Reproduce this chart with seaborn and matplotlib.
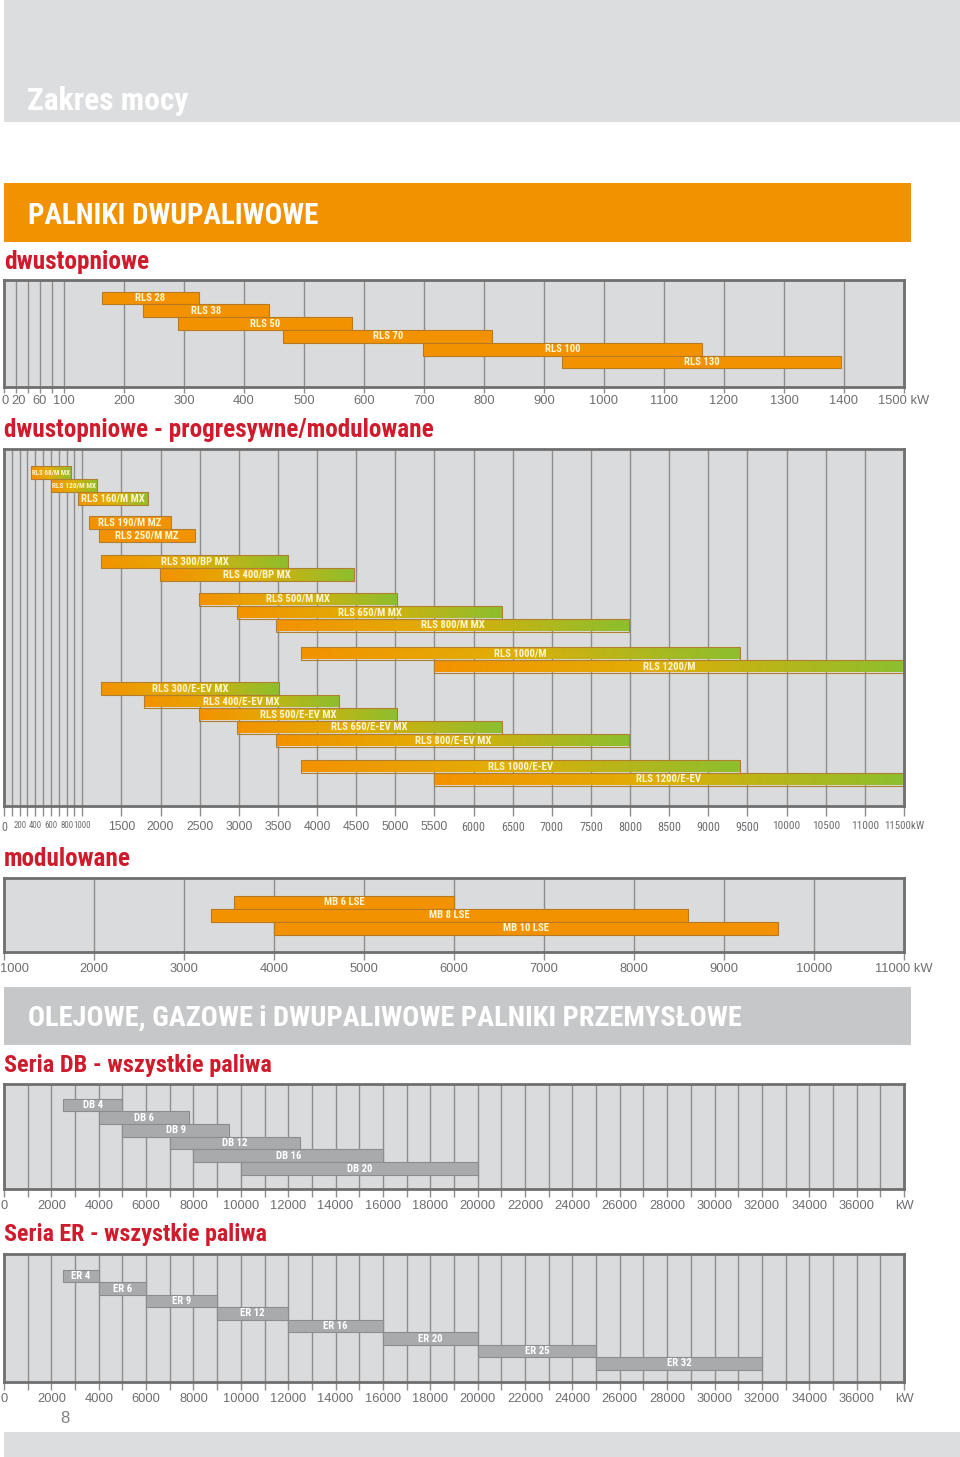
import numpy as np
import pandas as pd
import matplotlib
matplotlib.use("Agg")
import matplotlib.pyplot as plt
from matplotlib import font_manager as fm
from matplotlib.colors import LinearSegmentedColormap
from matplotlib.patches import Rectangle
from matplotlib.transforms import ScaledTranslation
import seaborn as sns

# ---------------- data (kW) ----------------
# PALNIKI DWUPALIWOWE - dwustopniowe
two_names = ["RLS 28", "RLS 38", "RLS 50", "RLS 70", "RLS 100", "RLS 130"]
two_min = [163, 232, 290, 465, 698, 930]
two_max = [325, 442, 580, 814, 1163, 1395]

# dwustopniowe - progresywne/modulowane
mod_names = ["RLS 68/M MX", "RLS 120/M MX", "RLS 160/M MX",
             "RLS 190/M MZ", "RLS 250/M MZ",
             "RLS 300/BP MX", "RLS 400/BP MX",
             "RLS 500/M MX", "RLS 650/M MX", "RLS 800/M MX",
             "RLS 1000/M", "RLS 1200/M",
             "RLS 300/E-EV MX", "RLS 400/E-EV MX", "RLS 500/E-EV MX",
             "RLS 650/E-EV MX", "RLS 800/E-EV MX",
             "RLS 1000/E-EV", "RLS 1200/E-EV"]
mod_min = [345, 600, 940, 1090, 1220, 1240, 1990, 2490, 2980, 3480, 3790, 5490,
           1240, 1790, 2490, 2980, 3480, 3790, 5490]
mod_max = [860, 1190, 1840, 2130, 2440, 3630, 4470, 5020, 6360, 7990, 9400, 11500,
           3520, 4280, 5020, 6360, 7990, 9400, 11500]
mod_group = [0, 0, 0, 1, 1, 2, 2, 3, 3, 3, 4, 4, 5, 5, 5, 5, 5, 6, 6]
mod_gradient = [True, True, True, False, False, True, True, True, True, True,
                True, True, True, True, True, True, True, True, True]

# modulowane
mb_names = ["MB 6 LSE", "MB 8 LSE", "MB 10 LSE"]
mb_min = [3560, 3300, 4000]
mb_max = [6000, 8600, 9600]

# Seria DB
db_names = ["DB 4", "DB 6", "DB 9", "DB 12", "DB 16", "DB 20"]
db_min = [2500, 4000, 5000, 7000, 8000, 10000]
db_max = [5000, 7800, 9500, 12500, 16000, 20000]

# Seria ER
er_names = ["ER 4", "ER 6", "ER 9", "ER 12", "ER 16", "ER 20", "ER 25", "ER 32"]
er_min = [2500, 4000, 6000, 9000, 12000, 16000, 20000, 25000]
er_max = [4000, 6000, 9000, 12000, 16000, 20000, 25000, 32000]

# axis ticks / labels
two_ticks = [0, 20, 40, 60, 80] + list(range(100, 1501, 100))
two_labels = ["0", "20", "", "60", ""] + [str(v) for v in range(100, 1500, 100)] + ["1500 kW"]
mod_ticks = list(range(0, 1001, 100)) + list(range(1500, 11501, 500))
mod_labels = [str(v) if v % 200 == 0 else "" for v in range(0, 1001, 100)] + \
             [str(v) for v in range(1500, 11001, 500)] + ["11500kW"]
mb_ticks = list(range(1000, 11001, 1000))
mb_labels = [str(v) for v in range(1000, 11000, 1000)] + ["11000 kW"]
ind_ticks = list(range(0, 38001, 1000))
ind_labels = [str(v) if v % 2000 == 0 else "" for v in range(0, 37001, 1000)] + ["kW"]

# ---------------- style ----------------
W, H = 960, 1457
ORANGE = "#F39200"
RED = "#CF1B2B"
PANEL_BG = "#DADBDC"
GRID = "#8E8E8E"
TICK_TXT = "#6D6E71"

sns.set_theme(style="white")

# pick a condensed face if one is installed
_fonts = fm.fontManager.ttflist
_names = {f.name for f in _fonts}
NARROW_FAM, NARROW_STRETCH = "Roboto", "normal"
for cand in ["Liberation Sans Narrow", "Roboto Condensed", "Open Sans Condensed",
             "Noto Sans Condensed", "DejaVu Sans Condensed"]:
    if cand in _names:
        NARROW_FAM = cand
        break
else:
    for st in ["condensed", "semi-condensed", "extra-condensed"]:
        hits = sorted({f.name for f in _fonts if f.stretch == st})
        if hits:
            NARROW_FAM, NARROW_STRETCH = hits[0], st
            break
NARROW = dict(family=[NARROW_FAM, "DejaVu Sans"], fontstretch=NARROW_STRETCH)
REG_FAM = "Liberation Sans" if "Liberation Sans" in _names else "DejaVu Sans"
plt.rcParams["font.family"] = [REG_FAM, "DejaVu Sans"]

cmap = LinearSegmentedColormap.from_list(
    "rls", [(0.0, "#F39200"), (0.45, "#E2AD06"), (1.0, "#8CBF2E")])
grad_img = np.linspace(0, 1, 256).reshape(1, -1)

fig = plt.figure(figsize=(W / 100, H / 100), dpi=100)
renderer = fig.canvas.get_renderer()


def text_width(s, size, **kw):
    t = fig.text(0, 0, s, fontsize=size, **kw)
    w = t.get_window_extent(renderer).width
    t.remove()
    return w


def fit_size(s, width, **kw):
    return 20 * width / text_width(s, 20, **kw)


def px_axes(x0, y0, x1, y1):
    return fig.add_axes([x0 / W, 1 - y1 / H, (x1 - x0) / W, (y1 - y0) / H])


def px_rect(x0, y0, x1, y1, color):
    fig.add_artist(Rectangle((x0 / W, 1 - y1 / H), (x1 - x0) / W, (y1 - y0) / H,
                             transform=fig.transFigure, color=color, lw=0, zorder=0))


def px_text(x, y, s, width=None, size=12, **kw):
    if width is not None:
        size = fit_size(s, width, **kw)
    fig.text(x / W, 1 - (y + 2.5) / H, s, va="center", ha="left", fontsize=size, **kw)


def nudge(label, dx_px):
    label.set_transform(label.get_transform() +
                        ScaledTranslation(dx_px / 100, 0, fig.dpi_scale_trans))


BAR_FS = fit_size("RLS 1200/E-EV", 65, fontweight="bold", **NARROW)


def panel(box, names, lo, hi, rows, n_rows, xlim, ticks, labels, fill, edge,
          txt_color, gradient=None, tick_len=4, tick_pad=1.5, lab_size=9.3):
    ax = px_axes(*box)
    df = pd.DataFrame({"name": names, "lo": lo, "hi": hi, "row": rows})
    df["span"] = df["hi"] - df["lo"]
    sns.barplot(data=df, x="span", y="row", orient="y", native_scale=True,
                width=1.0, left=df["lo"].to_numpy(), color=fill, saturation=1,
                edgecolor=edge, linewidth=0.8, errorbar=None, ax=ax, zorder=2)
    if gradient is not None:
        for patch, g in zip(list(ax.patches), gradient):
            if not g:
                continue
            x0, y0 = patch.get_x(), patch.get_y()
            w, h = patch.get_width(), patch.get_height()
            im = ax.imshow(grad_img, cmap=cmap, aspect="auto",
                           extent=(x0, x0 + w, y0 + h, y0), zorder=1.8,
                           interpolation="bilinear")
            im.set_clip_path(patch)
            patch.set_facecolor("none")
    px_per_unit = (box[2] - box[0]) / (xlim[1] - xlim[0])
    for _, r in df.iterrows():
        bar_px = (r["hi"] - r["lo"]) * px_per_unit
        tw = text_width(r["name"], BAR_FS, fontweight="bold", **NARROW)
        fs = BAR_FS if tw < bar_px - 2 else BAR_FS * (bar_px - 2) / tw
        ax.text((r["lo"] + r["hi"]) / 2, r["row"], r["name"], ha="center",
                va="center", fontsize=fs, fontweight="bold", color=txt_color,
                zorder=4, **NARROW)
    ax.set_facecolor(PANEL_BG)
    ax.set_xlim(*xlim)
    ax.set_ylim(n_rows, 0)
    ax.set_yticks([])
    ax.set_xticks(ticks)
    ax.set_xticklabels(labels, fontsize=lab_size, color=TICK_TXT)
    ax.tick_params(axis="x", bottom=True, length=tick_len, width=1, color=GRID,
                   pad=tick_pad)
    ax.set_axisbelow(True)
    ax.grid(axis="x", color=GRID, lw=1)
    ax.grid(axis="y", visible=False)
    ax.set_xlabel("")
    ax.set_ylabel("")
    for s in ax.spines.values():
        s.set_visible(True)
        s.set_color("#6F6F6F")
        s.set_linewidth(2)
    return ax


# ---------------- page decoration ----------------
px_rect(4, 0, 960, 122, "#DCDDDE")
px_text(27, 98, "Zakres mocy", width=161, color="white", fontweight="bold", **NARROW)
px_rect(4, 183, 911, 242, ORANGE)
px_text(28, 213, "PALNIKI DWUPALIWOWE", width=290, color="white", fontweight="bold", **NARROW)
px_rect(4, 987, 911, 1045, "#C6C7C8")
px_text(28, 1016, "OLEJOWE, GAZOWE i DWUPALIWOWE PALNIKI PRZEMYSŁOWE", width=714,
        color="white", fontweight="bold", **NARROW)
px_rect(4, 1432, 960, 1457, "#DCDDDE")

head_kw = dict(color=RED, fontweight="bold", **NARROW)
px_text(4, 259, "dwustopniowe", width=145, **head_kw)
px_text(4, 428, "dwustopniowe - progresywne/modulowane", width=429, **head_kw)
px_text(4, 857, "modulowane", width=127, **head_kw)
px_text(4, 1063, "Seria DB - wszystkie paliwa", width=266, **head_kw)
px_text(4, 1232, "Seria ER - wszystkie paliwa", width=262, **head_kw)
px_text(60, 1416, "8", size=12, color="#808080")

# ---------------- panels ----------------
CREAM = "#FFF6D0"

# dwustopniowe
rp = 12.8
ax1 = panel((4, 280, 904, 387), two_names, two_min, two_max,
            [18 / rp + i for i in range(len(two_names))], 107 / rp,
            (0, 1500), two_ticks, two_labels, ORANGE, "#B77A1E", CREAM)
nudge(ax1.get_xticklabels()[0], 1)
nudge(ax1.get_xticklabels()[1], 3)

# progresywne/modulowane (extra vertical space before each group, in px)
rp = 13.0
group_gap_px = np.cumsum([23, 11, 13, 12, 15, 9, 13])
rows = [i + group_gap_px[g] / rp for i, g in enumerate(mod_group)]
ax2 = panel((4, 449, 904, 806), mod_names, mod_min, mod_max, rows, 357 / rp,
            (0, 11500), mod_ticks, mod_labels, ORANGE, "#B08030", CREAM,
            gradient=mod_gradient, tick_len=7, tick_pad=4)
fs_small = fit_size("200", 13, **NARROW)
fs_mid = fit_size("6500", 24, **NARROW)
fs_big = fit_size("10000", 28, **NARROW)
fs_kw = fit_size("11500kW", 40, **NARROW)
for t, v in zip(ax2.get_xticklabels(), mod_ticks):
    if 1500 <= v < 6000:
        t.set_fontsize(8.8)
        continue
    t.set_fontfamily(NARROW["family"])
    t.set_fontstretch(NARROW_STRETCH)
    if v == 0:
        t.set_fontsize(fs_mid)
    elif v <= 1000:
        t.set_fontsize(fs_small)
    elif v < 10000:
        t.set_fontsize(fs_mid)
    elif v < 11500:
        t.set_fontsize(fs_big)
    else:
        t.set_fontsize(fs_kw)

# modulowane
rp = 13.0
ax3 = panel((4, 878, 904, 952), mb_names, mb_min, mb_max,
            [24 / rp + i for i in range(len(mb_names))], 74 / rp,
            (1000, 11000), mb_ticks, mb_labels, ORANGE, "#B77A1E", CREAM,
            tick_len=6, tick_pad=2)
first = ax3.get_xticklabels()[0]
first.set_horizontalalignment("left")
nudge(first, -4)

# Seria DB
rp = 12.7
panel((4, 1084, 904, 1189), db_names, db_min, db_max,
      [21 / rp + i for i in range(len(db_names))], 105 / rp,
      (0, 38000), ind_ticks, ind_labels, "#A8AAAC", "#8A8C8E", "white",
      tick_len=6, tick_pad=2)

# Seria ER
rp = 12.5
panel((4, 1254, 904, 1382), er_names, er_min, er_max,
      [22 / rp + i for i in range(len(er_names))], 128 / rp,
      (0, 38000), ind_ticks, ind_labels, "#A8AAAC", "#8A8C8E", "white",
      tick_len=6, tick_pad=2)

fig.savefig("out.png", dpi=100, facecolor="white")
